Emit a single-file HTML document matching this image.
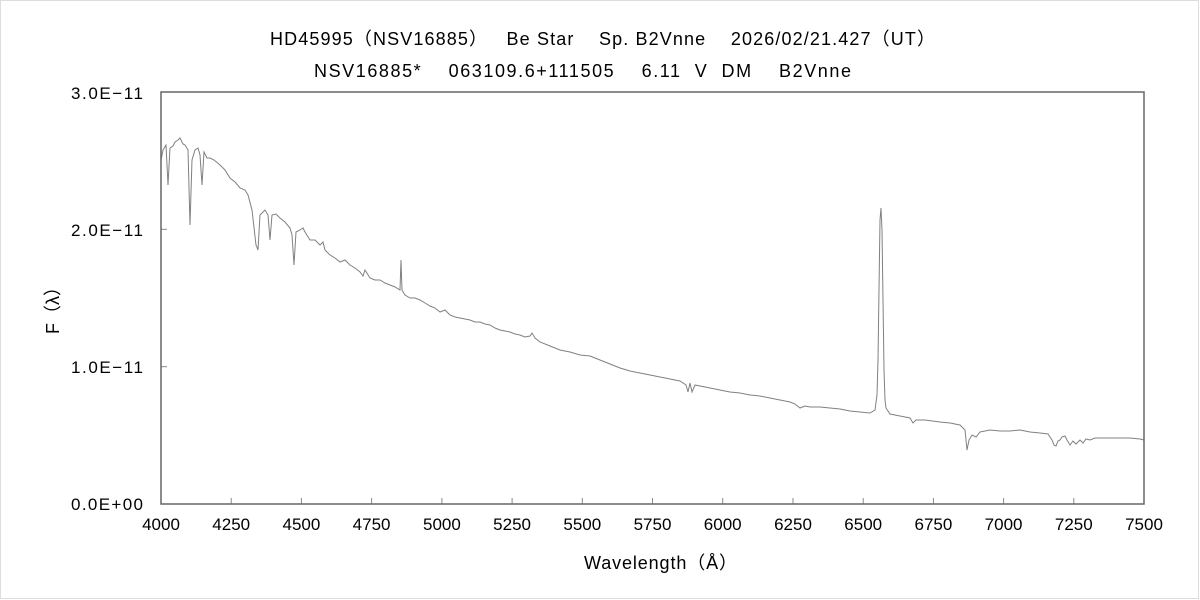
<!DOCTYPE html>
<html><head><meta charset="utf-8"><style>
html,body{margin:0;padding:0;background:#fff}
svg{display:block}
text{font-family:"Liberation Sans","Noto Sans CJK JP",sans-serif;fill:#000}
</style></head><body>
<svg width="1200" height="600" viewBox="0 0 1200 600">
<rect x="0.5" y="0.5" width="1198" height="598" fill="#fff" stroke="#ddd"/>
<text x="270" y="45" font-size="18" textLength="665" lengthAdjust="spacing" xml:space="preserve">HD45995（NSV16885）   Be Star    Sp. B2Vnne    2026/02/21.427（UT）</text>
<text x="314" y="77" font-size="18" textLength="537" lengthAdjust="spacing" xml:space="preserve">NSV16885*    063109.6+111505    6.11  V  DM    B2Vnne</text>
<g stroke="#888" stroke-width="1">
<line x1="161" y1="229.3" x2="167" y2="229.3"/><line x1="161" y1="366.7" x2="167" y2="366.7"/>
<line x1="231.2" y1="504" x2="231.2" y2="498"/><line x1="301.4" y1="504" x2="301.4" y2="498"/>
<line x1="371.6" y1="504" x2="371.6" y2="498"/><line x1="441.9" y1="504" x2="441.9" y2="498"/>
<line x1="512.1" y1="504" x2="512.1" y2="498"/><line x1="582.3" y1="504" x2="582.3" y2="498"/>
<line x1="652.5" y1="504" x2="652.5" y2="498"/><line x1="722.7" y1="504" x2="722.7" y2="498"/>
<line x1="793" y1="504" x2="793" y2="498"/><line x1="863.2" y1="504" x2="863.2" y2="498"/>
<line x1="933.4" y1="504" x2="933.4" y2="498"/><line x1="1003.6" y1="504" x2="1003.6" y2="498"/>
<line x1="1073.8" y1="504" x2="1073.8" y2="498"/>
</g>
<polyline fill="none" stroke="#808080" stroke-width="1" points="161,160 163,150 166,145 168,185 170,148 173,146 175,142 178,140 180,138 183,144 185,145 188,150 190,225 192,160 195,150 198,148 200,155 202,185 204,152 207,158 210,158 214,160 220,165 225,170 230,178 235,182 240,188 245,190 248,195 252,210 256,245 258,250 260,215 265,210 268,215 270,240 272,215 276,214 280,218 285,222 290,228 292,235 294,265 296,232 300,230 303,228 305,232 310,240 315,240 320,245 323,242 325,250 330,255 335,258 340,262 345,260 350,265 355,268 360,272 363,276 365,270 370,278 375,280 380,280 385,283 390,285 395,287 400,290 401,260 402,290 405,295 410,298 415,298 420,300 425,303 430,306 435,308 440,312 445,310 450,315 455,317 460,318 465,319 470,320 475,322 480,322 485,324 490,325 495,328 500,330 505,331 510,332 515,334 520,335 525,337 530,336 532,333 535,338 540,342 550,346 560,350 570,352 580,355 590,356 600,360 610,364 620,368 630,371 640,373 650,375 660,377 670,379 680,381 686,385 688,392 690,383 692,392 695,385 700,386 710,388 720,390 730,392 740,393 750,395 760,396 770,398 780,400 790,402 795,404 800,408 805,406 810,407 820,407 830,408 840,409 850,411 860,412 870,413 875,410 877,395 878,360 879,290 880,220 881,208 882,230 883,300 884,370 885,400 886,408 890,414 900,416 910,418 913,423 916,420 925,420 940,422 950,423 960,425 965,430 967,450 969,440 972,435 976,437 980,432 985,431 990,430 1000,431 1010,431 1020,430 1030,432 1040,433 1048,434 1050,437 1052,440 1054,445 1056,446 1058,441 1060,440 1062,437 1065,436 1067,440 1070,445 1073,441 1076,444 1080,440 1083,443 1086,439 1090,440 1095,438 1100,438 1110,438 1120,438 1130,438 1140,439 1144,440"/>
<rect x="161" y="92" width="983" height="412" fill="none" stroke="#666" stroke-width="1.5"/>
<g font-size="17">
<text x="71" y="99" textLength="72" lengthAdjust="spacing">3.0E−11</text>
<text x="71" y="236" textLength="72" lengthAdjust="spacing">2.0E−11</text>
<text x="71" y="373" textLength="72" lengthAdjust="spacing">1.0E−11</text>
<text x="71" y="510" textLength="72" lengthAdjust="spacing">0.0E+00</text>
</g>
<g font-size="17" text-anchor="middle">
<text x="161" y="530">4000</text><text x="231.2" y="530">4250</text><text x="301.4" y="530">4500</text>
<text x="371.6" y="530">4750</text><text x="441.9" y="530">5000</text><text x="512.1" y="530">5250</text>
<text x="582.3" y="530">5500</text><text x="652.5" y="530">5750</text><text x="722.7" y="530">6000</text>
<text x="793" y="530">6250</text><text x="863.2" y="530">6500</text><text x="933.4" y="530">6750</text>
<text x="1003.6" y="530">7000</text><text x="1073.8" y="530">7250</text><text x="1144" y="530">7500</text>
</g>
<text x="584" y="569" font-size="18" textLength="153" lengthAdjust="spacing">Wavelength（Å）</text>
<text transform="translate(59,306) rotate(-90)" font-size="18" text-anchor="middle">F（λ）</text>
</svg>
</body></html>
